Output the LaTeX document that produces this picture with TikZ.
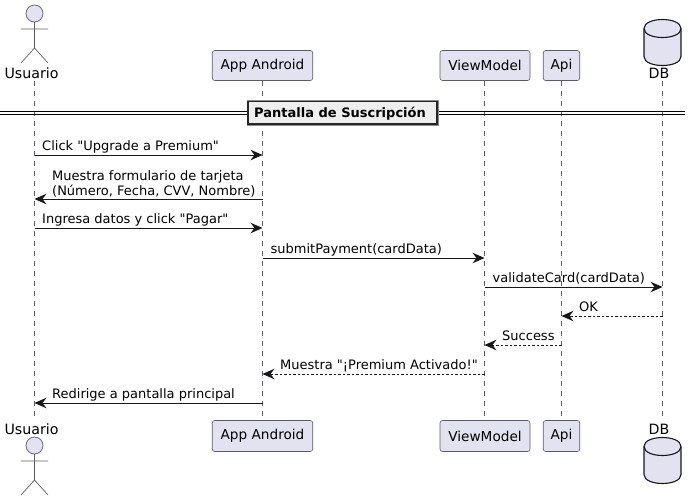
\documentclass[tikz,border=0pt]{standalone}
\usepackage{fontspec}
\newfontfamily\djv{DejaVu Sans}
\usetikzlibrary{arrows.meta,calc,shapes.geometric}
\definecolor{pfill}{HTML}{E2E2F0}
\definecolor{pline}{HTML}{5A5A6A}
\definecolor{ink}{HTML}{181818}
\definecolor{divfill}{HTML}{EEEEEE}
\tikzset{
  part/.style={draw=pline,fill=pfill,rounded corners=2.5pt,line width=0.6pt,text=black,font=\djv\fontsize{13.65}{16}\selectfont,inner sep=0pt,anchor=center},
  lbl/.style={font=\djv\fontsize{14.2}{16}\selectfont,text=black,inner sep=0pt},
  life/.style={draw=pline,line width=0.6pt,dash pattern=on 5pt off 5pt},
  msg/.style={draw=ink,line width=0.9pt,-{Stealth[length=12pt,width=10.5pt,inset=4pt]}},
  ret/.style={msg,dash pattern=on 2.5pt off 2pt},
  mtxt/.style={font=\djv\fontsize{13}{15}\selectfont,text=black,inner sep=0pt,anchor=base west,align=left},
  actorline/.style={draw=pline,line width=0.7pt,fill=pfill},
  dbline/.style={draw=ink,line width=1.1pt,fill=pfill},
}
\newcommand{\actorfig}[1]{%
  \draw[actorline] (34.5,#1+8.5) circle (8.5);
  \draw[actorline,fill=none] (34.5,#1+17) -- (34.5,#1+43) (21,#1+24) -- (48,#1+24)
    (21,#1+58) -- (34.5,#1+43) -- (48,#1+58);
}
\newcommand{\dbfig}[1]{%
  \draw[dbline] (644,#1+9) .. controls (644,#1-3) and (681,#1-3) .. (681,#1+9)
    -- (681,#1+37) .. controls (681,#1+49) and (644,#1+49) .. (644,#1+37) -- cycle;
  \draw[dbline,fill=none] (644,#1+9) .. controls (644,#1+21) and (681,#1+21) .. (681,#1+9);
}
\begin{document}
\begin{tikzpicture}[x=1pt,y=-1pt]
\useasboundingbox (0,0) rectangle (696,501);
% lifelines
\coordinate (ut) at (34.5,81); \coordinate (ub) at (34.5,420);
\coordinate (at) at (262.5,81); \coordinate (ab) at (262.5,420);
\coordinate (vt) at (484.5,81); \coordinate (vb) at (484.5,420);
\coordinate (pt) at (561.5,81); \coordinate (pb) at (561.5,420);
\coordinate (dt) at (662.5,81); \coordinate (db) at (662.5,420);
\foreach \t/\b in {ut/ub,at/ab,vt/vb,pt/pb,dt/db} \draw[life] (\t) -- (\b);
% participants top
\actorfig{5}
\node[lbl] (usuT) at (31.5,73) {Usuario};
\node[part,minimum width=100.5pt,minimum height=30pt] (appT) at (262.5,65.5) {App Android};
\node[part,minimum width=90pt,minimum height=30pt] (vmT) at (485,65.5) {ViewModel};
\node[part,minimum width=36.5pt,minimum height=30pt] (apiT) at (561.5,65.5) {Api};
\dbfig{19.5}
\node[lbl] (dbT) at (659,73) {DB};
% participants bottom
\node[lbl] (usuB) at (31.5,429) {Usuario};
\actorfig{437}
\node[part,minimum width=100.5pt,minimum height=31pt] (appB) at (262.5,436) {App Android};
\node[part,minimum width=90pt,minimum height=31pt] (vmB) at (485,436) {ViewModel};
\node[part,minimum width=36.5pt,minimum height=31pt] (apiB) at (561.5,436) {Api};
\node[lbl] (dbB) at (659,429) {DB};
\dbfig{437.5}
% divider
\coordinate (dl1) at (0,111.7); \coordinate (dr1) at (685,111.7);
\coordinate (dl2) at (0,114.4); \coordinate (dr2) at (685,114.4);
\draw[draw=black,line width=1pt] (dl1) -- (dr1) (dl2) -- (dr2);
\draw[black!45,line width=3pt] (248,101.5) rectangle (437,124.2);
\node[draw=black!85,line width=1.7pt,fill=divfill,minimum width=189pt,minimum height=22.7pt,inner sep=0pt] (sec) at (342.5,112.85) {};
\node[font=\djv\fontsize{13}{15}\selectfont\bfseries,inner sep=0pt,anchor=base west] (sectxt) at (254,117.5) {Pantalla de Suscripción};
% messages
\foreach \n/\x in {u/34.5,a/262.5,v/484.5,p/561.5,d/662.5}
  \foreach \i/\y in {1/155,2/199,3/228,4/258,5/287,6/316,7/345,8/374,9/403}
    \coordinate (\n\i) at (\x,\y);
\draw[msg] (u1) -- (a1);
\node[mtxt] (m1) at (42,150) {Click "Upgrade a Premium"};
\draw[msg] (a2) -- (u2);
\node[mtxt,anchor=south west] (m2) at (52,197.5) {Muestra formulario de tarjeta\\(Número, Fecha, CVV, Nombre)};
\draw[msg] (u3) -- (a3);
\node[mtxt] (m3) at (42,223) {Ingresa datos y click "Pagar"};
\draw[msg] (a4) -- (v4);
\node[mtxt] (m4) at (270.5,253) {submitPayment(cardData)};
\draw[msg] (v5) -- (d5);
\node[mtxt] (m5) at (492.5,282) {validateCard(cardData)};
\draw[ret] (d6) -- (p6);
\node[mtxt] (m6) at (579,311) {OK};
\draw[ret] (p7) -- (v7);
\node[mtxt] (m7) at (502,340) {Success};
\draw[ret] (v8) -- (a8);
\node[mtxt] (m8) at (280,369) {Muestra "¡Premium Activado!"};
\draw[msg] (a9) -- (u9);
\node[mtxt] (m9) at (52,398) {Redirige a pantalla principal};
\end{tikzpicture}
\end{document}
